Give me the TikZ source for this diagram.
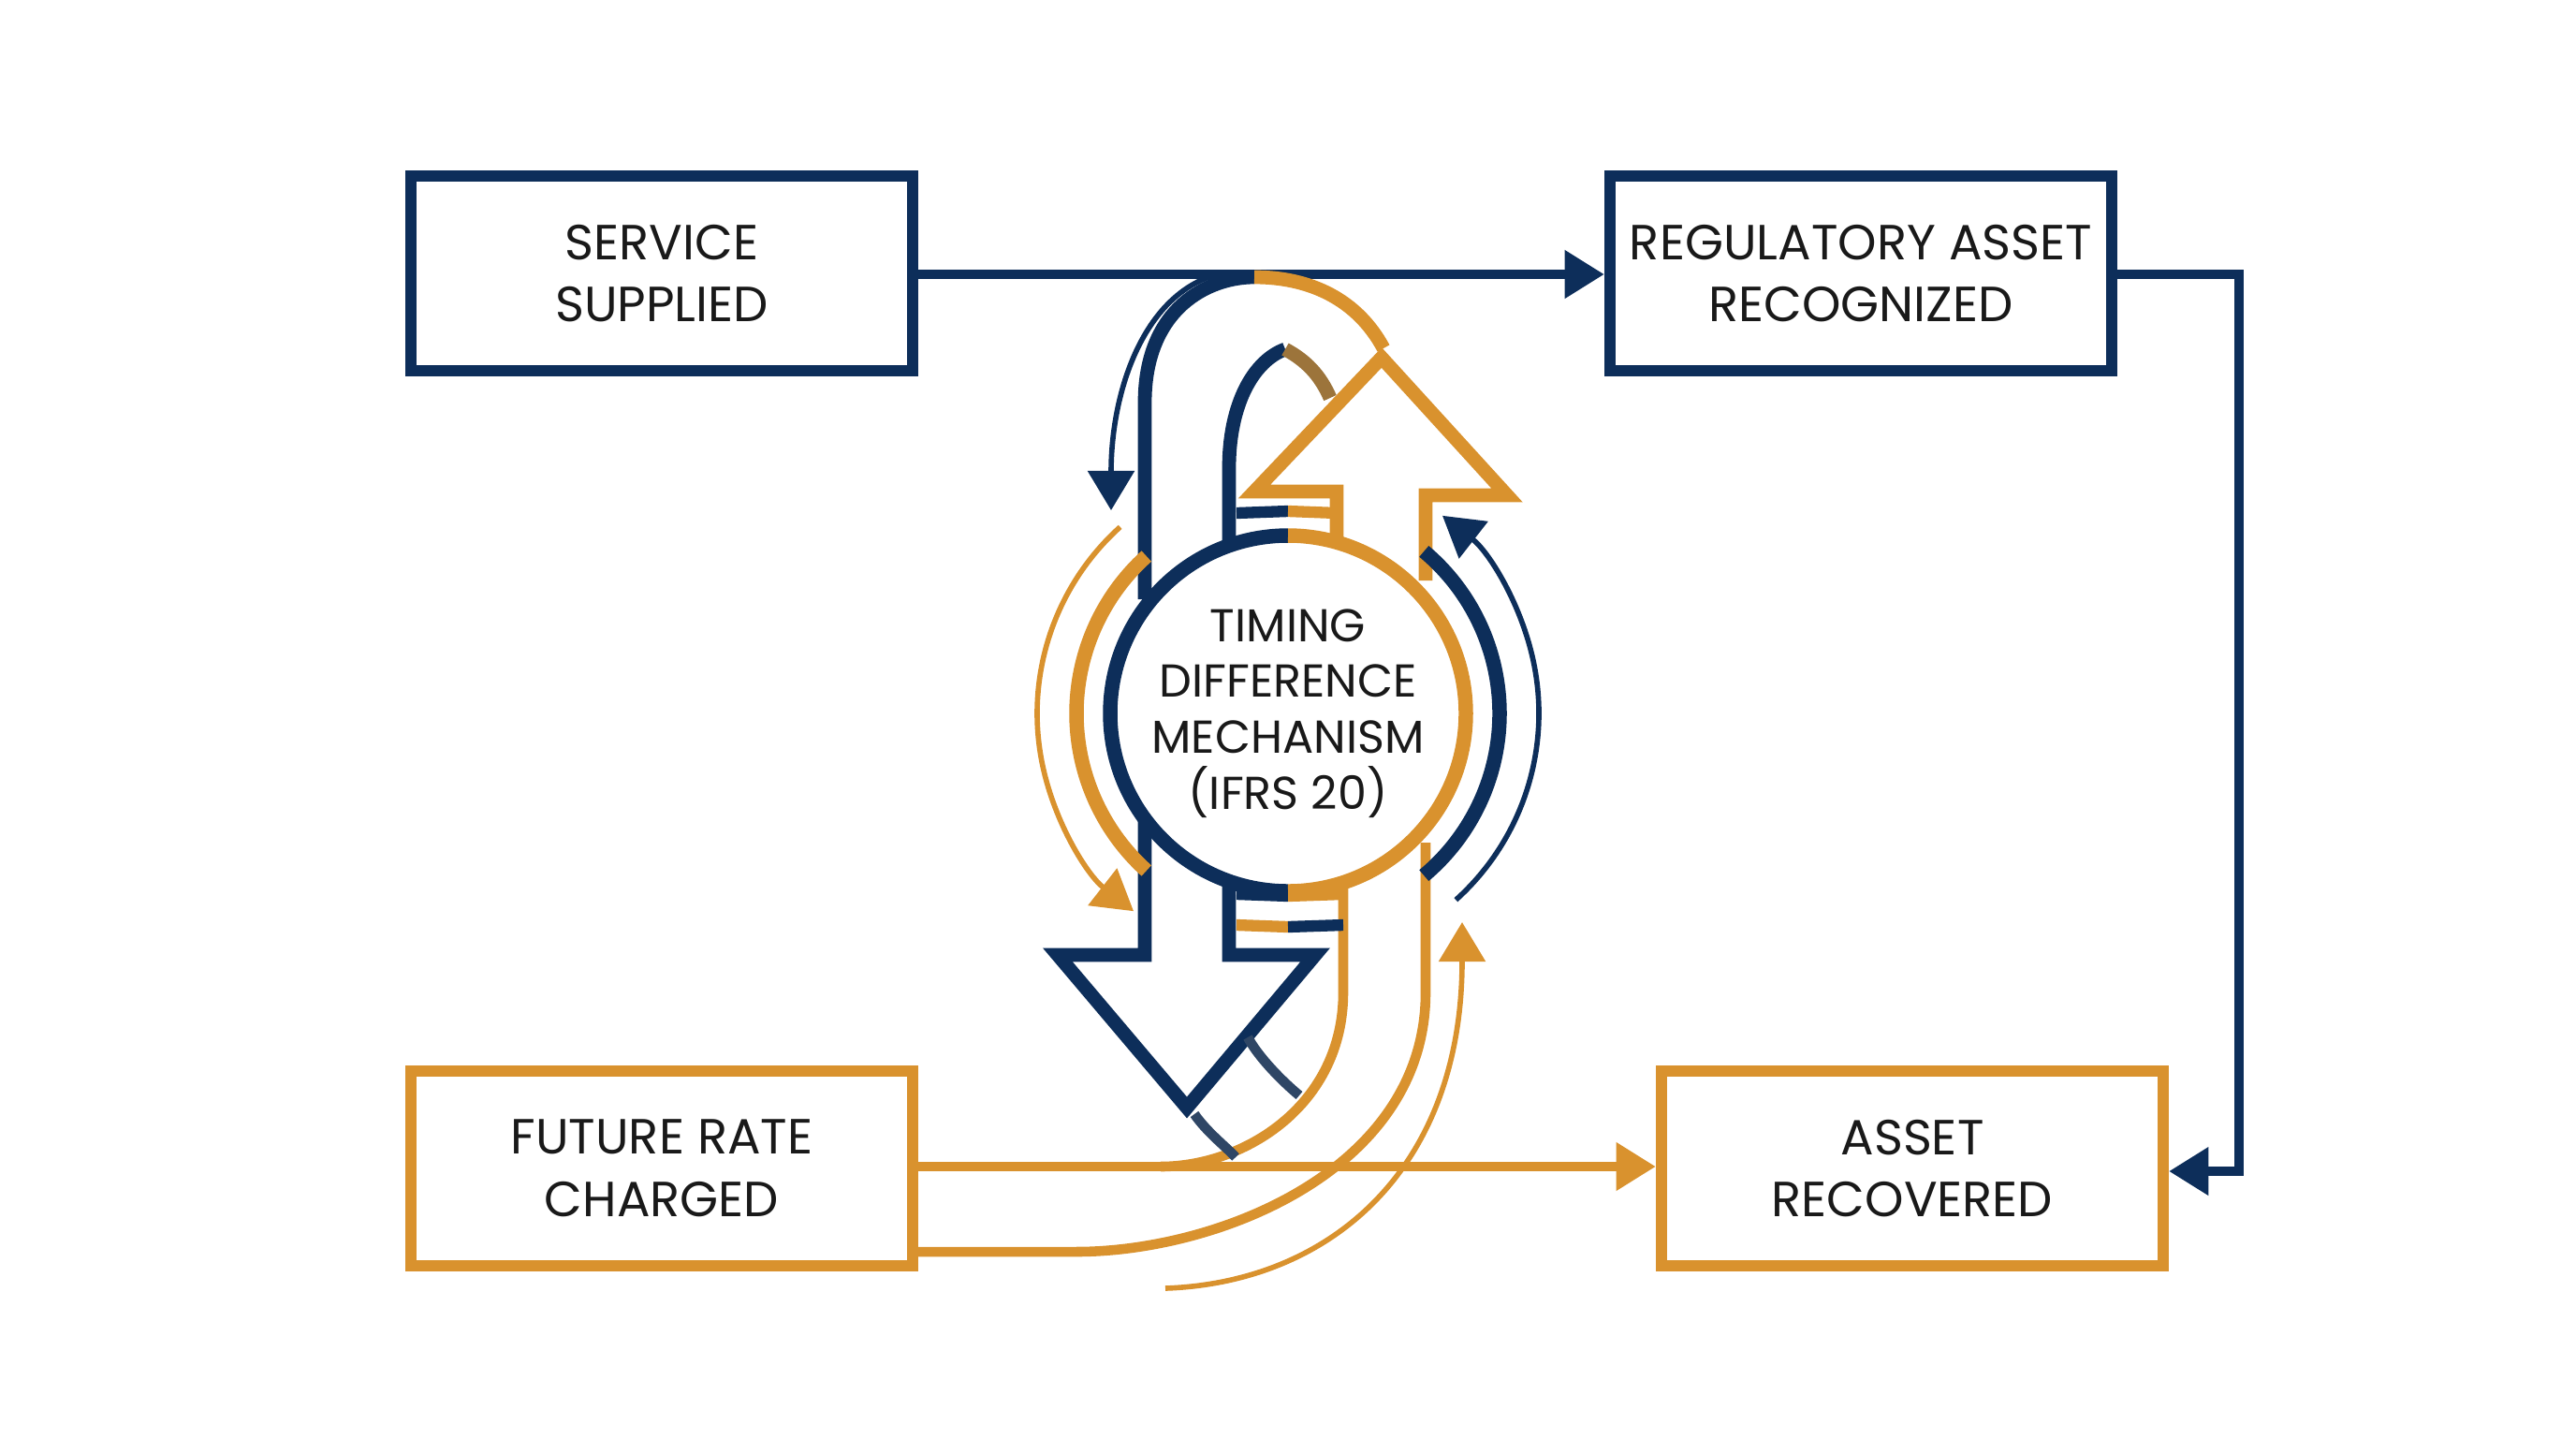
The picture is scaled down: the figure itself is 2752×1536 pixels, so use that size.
\documentclass[tikz,border=0pt]{standalone}
\usepackage{fontspec}
\setmainfont{Poppins}
\usetikzlibrary{arrows.meta}
\definecolor{navy}{HTML}{0D2E5A}
\definecolor{gold}{HTML}{D9922E}
\begin{document}
\begin{tikzpicture}[x={(0.01cm,0)},y={(0,-0.01cm)},
  box/.style={draw=#1,line width=3.4pt,minimum width=5.36cm,minimum height=2.07cm,align=center,font=\fontsize{15}{19}\selectfont,text=black!90},
  conn/.style={draw=#1,line width=2.8pt},
  ol/.style={draw=#1,line width=4.2pt,line join=miter},
  thin/.style={draw=#1,line width=1.6pt},
  tip/.style={-{Triangle[width=14pt,length=12pt]}}]
\useasboundingbox (0,0) rectangle (2752,1536);
\node[box=navy] (ss) at (707,292) {SERVICE\\SUPPLIED};
\node[box=navy] (ra) at (1988,292) {REGULATORY ASSET\\RECOGNIZED};
\node[box=gold] (fr) at (707,1248) {FUTURE RATE\\CHARGED};
\node[box=gold] (ar) at (2043,1248) {ASSET\\RECOVERED};
\coordinate (c) at (1376,762);
\draw[conn=navy,tip] (ss.east|-0,293) -- (ra.west|-0,293);
\draw[conn=navy,tip] (ra.east|-0,293) -- (2392,293) -- (2392,1251) -- (ar.east|-0,1251);
\draw[conn=gold,tip] (fr.east|-0,1246) -- (ar.west|-0,1246);
\draw[ol=gold,line width=3pt] (fr.east|-0,1337) -- (1150,1337) .. controls (1300,1337) and (1523,1250) .. (1523,1060) -- (1523,900);
\draw[ol=gold,line width=3pt] (1240,1246) .. controls (1330,1246) and (1435,1180) .. (1435,1060) -- (1435,945);
\draw[ol=navy] (1223,640) -- (1223,430) .. controls (1223,330) and (1290,296) .. (1340,296);
\draw[ol=gold] (1340,296) .. controls (1400,296) and (1450,320) .. (1478,372);
\draw[ol=navy] (1313,590) -- (1313,500) .. controls (1313,430) and (1340,385) .. (1373,373);
\draw[ol=gold!70!navy] (1373,373) .. controls (1395,385) and (1410,400) .. (1421,425);
\draw[ol=navy] (1223,860) -- (1223,1020) -- (1130,1020) -- (1268,1183) -- (1405,1020) -- (1313,1020) -- (1313,940);
\draw[ol=gold] (1523,620) -- (1523,529) -- (1610,529) -- (1476,382) -- (1340,525) -- (1428,525) -- (1428,590);
\draw[ol=navy!70!gray,line width=3pt] (1276,1190) .. controls (1290,1210) and (1310,1225) .. (1320,1236);
\draw[ol=navy!70!gray,line width=3pt] (1333,1108) .. controls (1345,1130) and (1370,1155) .. (1388,1170);
\draw[line width=3.5pt,navy] (1321,548)--(1376,546); \draw[line width=3.5pt,gold] (1376,546)--(1428,548);
\draw[line width=3.5pt,gold] (1321,582)--(1376,580); \draw[line width=3.5pt,navy] (1376,580)--(1428,582);
\draw[line width=3.5pt,navy] (1321,955)--(1376,957); \draw[line width=3.5pt,gold] (1376,957)--(1435,955);
\draw[line width=3.5pt,gold] (1321,988)--(1376,990); \draw[line width=3.5pt,navy] (1376,990)--(1435,988);
\fill[white] (c) circle[radius=183];
\draw[navy,line width=4.4pt] ([shift={(c)}]90:190) arc[start angle=90,end angle=270,radius=190];
\draw[gold,line width=4.4pt] ([shift={(c)}]-90:190) arc[start angle=-90,end angle=90,radius=190];
\node[align=center,font=\fontsize{14}{17}\selectfont,text=black!90] (t) at (c) {TIMING\\DIFFERENCE\\MECHANISM\\(IFRS 20)};
\draw[gold,line width=4.4pt] ([shift={(c)}]132:226) arc[start angle=132,end angle=228,radius=226];
\draw[navy,line width=4.4pt] ([shift={(c)}]-50:226) arc[start angle=-50,end angle=50,radius=226];
\draw[thin=gold,tip] ([shift={(c)}]228:268) arc[start angle=228,end angle=128,radius=268];
\draw[thin=navy,tip] ([shift={(c)}]48:268) arc[start angle=48,end angle=-52,radius=268];
\draw[thin=navy,tip] (1294,295) .. controls (1220,320) and (1187,420) .. (1187,545);
\draw[thin=gold,tip] (1245,1376) .. controls (1420,1370) and (1562,1250) .. (1562,985);
\end{tikzpicture}
\end{document}
